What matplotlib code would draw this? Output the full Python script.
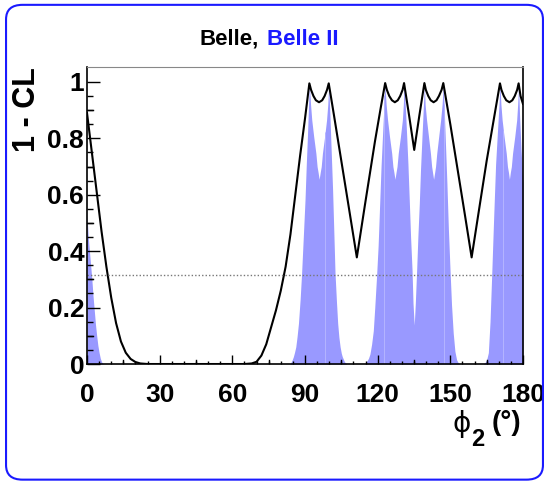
import numpy as np
import matplotlib
matplotlib.use("Agg")
import matplotlib.pyplot as plt
from matplotlib.patches import FancyBboxPatch

plt.rcParams['font.family'] = ['Liberation Sans', 'DejaVu Sans']
plt.rcParams['font.weight'] = 'bold'

# Belle (black curve): phi2 in degrees, 1 - CL
belle_phi2 = [0, 2, 4, 6, 8, 10, 12, 14, 16, 18, 20, 22, 25, 65, 68, 70, 72, 74, 76, 78, 80,
              82, 84, 86, 88, 90, 91.8, 92.5, 93.5, 94.5, 95.8, 97.1, 98.1, 99.1, 99.8,
              102, 105, 108, 111.4, 114.8, 118.9, 121.3, 123.1, 123.8, 124.8, 125.9, 127.1,
              128.3, 129.3, 130.3, 130.9, 133, 135.1, 137.2, 139.3, 139.9, 140.9, 141.9,
              143.1, 144.3, 145.3, 146.4, 147.1, 150, 153, 156, 158.8, 162, 165, 168,
              170.5, 171.1, 172.1, 173.1, 174.4, 175.6, 176.6, 177.6, 178.2, 179, 180]
belle_cl = [0.89, 0.75, 0.61, 0.47, 0.345, 0.235, 0.145, 0.08, 0.04, 0.018, 0.007, 0.002, 0.0,
            0.0, 0.002, 0.008, 0.03, 0.07, 0.13, 0.19, 0.26,
            0.345, 0.46, 0.60, 0.74, 0.87, 0.995, 0.972, 0.950, 0.935, 0.928, 0.935, 0.950, 0.972, 0.995,
            0.88, 0.72, 0.56, 0.378, 0.567, 0.79, 0.91, 0.996, 0.972, 0.950, 0.935, 0.928,
            0.935, 0.950, 0.972, 0.996, 0.88, 0.759, 0.88, 0.996, 0.972, 0.950, 0.935,
            0.928, 0.935, 0.950, 0.972, 0.996, 0.85, 0.69, 0.53, 0.378, 0.555, 0.72, 0.87,
            0.995, 0.972, 0.950, 0.935, 0.928, 0.935, 0.950, 0.972, 0.995, 0.95, 0.922]

# Belle II (blue filled): phi2 in degrees, 1 - CL
belle2_phi2 = [0, 0.5, 1, 1.5, 2, 2.5, 3, 3.5, 4, 4.5, 5, 5.5, 6, 6.5, 7,
               83.8, 84.5, 85.2, 85.7, 86.2, 86.7, 87.3, 88, 88.6, 89.3, 90, 90.5, 91, 91.5, 91.8,
               92.3, 92.8, 93.6, 94.5, 95.0, 95.4, 95.85, 96.3, 96.7, 97.2, 98.1, 98.9, 99.4, 99.8,
               100.3, 100.8, 101.4, 101.9, 102.4, 103, 103.5, 104, 104.5, 105, 105.4,
               106.3, 107.2,
               114.8, 115.5, 116.2, 116.8, 117.5, 118.2, 118.8, 119.6, 120.2, 120.8, 121.4,
               122, 122.6, 123.0,
               123.5, 124.1, 124.9, 125.8, 126.3, 126.7, 127.15, 127.6, 128.0, 128.5, 129.4,
               130.2, 130.6, 130.9,
               131.5, 132, 132.5, 133.1, 133.6, 134.2, 134.6, 135.1, 135.55, 136.1, 136.6,
               137.2, 137.7, 138.3, 138.8, 139.3,
               139.6, 140.2, 141.0, 141.8, 142.3, 142.65, 143.1, 143.55, 143.9, 144.4, 145.2,
               146.0, 146.6, 147.1,
               147.5, 148, 148.6, 149.2, 149.9, 150.5, 151.2, 151.9, 152.6, 153.3, 154,
               163.6, 164.3, 165, 165.7, 166.4, 167.1, 167.9, 168.7, 169.5, 170.1, 170.5,
               170.9, 171.4, 172.2, 173.1, 173.6, 174.0, 174.4, 174.8, 175.2, 175.7, 176.6,
               177.4, 177.8, 178.2,
               178.6, 179.2, 180]
belle2_cl = [0.53, 0.45, 0.40, 0.35, 0.30, 0.24, 0.19, 0.14, 0.10, 0.065, 0.04, 0.02, 0.008, 0.002, 0.0,
             0.0, 0.01, 0.026, 0.042, 0.061, 0.095, 0.144, 0.23, 0.322, 0.45, 0.58, 0.70, 0.806, 0.924, 0.99,
             0.92, 0.865, 0.806, 0.747, 0.70, 0.68, 0.655, 0.68, 0.70, 0.747, 0.806, 0.865, 0.92, 0.99,
             0.88, 0.76, 0.617, 0.47, 0.322, 0.22, 0.144, 0.095, 0.061, 0.038, 0.026,
             0.008, 0.0,
             0.0, 0.01, 0.02, 0.035, 0.07, 0.118, 0.20, 0.319, 0.42, 0.56, 0.70,
             0.81, 0.92, 0.99,
             0.92, 0.865, 0.806, 0.747, 0.70, 0.68, 0.655, 0.68, 0.70, 0.747, 0.806,
             0.865, 0.92, 0.99,
             0.90, 0.806, 0.71, 0.57, 0.45, 0.333, 0.216, 0.138, 0.216, 0.333, 0.45,
             0.57, 0.69, 0.806, 0.90, 0.99,
             0.92, 0.865, 0.806, 0.747, 0.70, 0.68, 0.655, 0.68, 0.70, 0.747, 0.806,
             0.865, 0.92, 0.99,
             0.90, 0.78, 0.64, 0.48, 0.33, 0.21, 0.11, 0.045, 0.015, 0.004, 0.0,
             0.0, 0.005, 0.015, 0.04, 0.15, 0.319, 0.52, 0.709, 0.83, 0.92, 0.99,
             0.92, 0.865, 0.806, 0.747, 0.70, 0.68, 0.655, 0.68, 0.70, 0.747, 0.806,
             0.865, 0.92, 0.99,
             0.88, 0.76, 0.64]

# faint seams visible inside the filled area
seam_phi2 = [98.3, 122.8, 147.4, 171.9]

one_sigma = 0.3173

fig = plt.figure(figsize=(5.49, 4.84), dpi=100)
ax = fig.add_axes([0.1585, 0.2479, 0.7941, 0.6137])

ax.fill_between(belle2_phi2, 0, belle2_cl, color='#9999ff', lw=0)
ax.vlines(seam_phi2, 0, np.interp(seam_phi2, belle2_phi2, belle2_cl), color='#b4b4ff', lw=0.7)
ax.plot(belle_phi2, belle_cl, color='black', lw=1.5)
ax.axhline(one_sigma, color='#777777', lw=1.0, ls=(0, (1, 1.5)))

ax.set_xlim(0, 180)
ax.set_ylim(0, 1.053)
ax.set_xticks(np.arange(0, 181, 30))
ax.set_xticks(np.arange(0, 181, 5), minor=True)
ax.set_yticks([0, 0.2, 0.4, 0.6, 0.8, 1.0])
ax.set_yticklabels(['0', '0.2', '0.4', '0.6', '0.8', '1'])
ax.set_yticks(np.arange(0, 1.05, 0.05), minor=True)
ax.tick_params(axis='both', which='both', direction='in', top=False, right=False,
               labelsize=19, width=1)
ax.tick_params(axis='x', which='major', length=6.5, pad=13.5)
ax.tick_params(axis='x', which='minor', length=2.5)
ax.tick_params(axis='y', which='major', length=9, pad=2)
ax.tick_params(axis='y', which='minor', length=4)
# medium ticks: 15 deg on x, 0.1 on y
for xm in np.arange(15, 180, 30):
    ax.plot([xm, xm], [0, 0.016], color='black', lw=1)
for ym in np.arange(0.1, 1.05, 0.2):
    ax.plot([0, 2.4], [ym, ym], color='black', lw=1)
for lab in ax.get_xticklabels() + ax.get_yticklabels():
    lab.set_fontweight('bold')

ax.spines['top'].set_color('#888888')
for s in ['left', 'bottom', 'right']:
    ax.spines[s].set_linewidth(1.2)

fig.text(0.05, 0.862, '1 - CL', rotation=90, fontsize=22, fontweight='bold',
         ha='center', va='top')
fig.text(0.857, 0.124, '\u03d5', fontsize=20, fontweight='normal', ha='right', va='center',
         family='DejaVu Sans')
fig.text(0.859, 0.091, '2', fontsize=17, fontweight='bold', ha='left', va='center')
fig.text(0.8956, 0.127, '(\u00b0)', fontsize=20, fontweight='bold', ha='left', va='center')

fig.text(0.472, 0.919, 'Belle,', fontsize=16, fontweight='bold', ha='right', va='center')
fig.text(0.486, 0.919, 'Belle II', fontsize=16, fontweight='bold', ha='left', va='center',
         color='#1a1aff')

frame = FancyBboxPatch((0.011, 0.009), 0.978, 0.981, boxstyle='round,pad=0,rounding_size=0.03',
                       transform=fig.transFigure, fill=False, edgecolor='#1a1aff', lw=1.5)
fig.patches.append(frame)

fig.savefig('out.png', dpi=100)
